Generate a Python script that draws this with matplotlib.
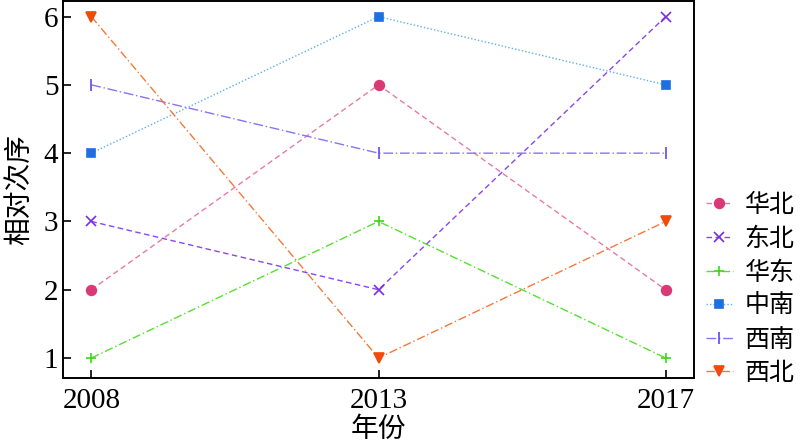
import matplotlib
matplotlib.use('Agg')
import matplotlib.pyplot as plt

plt.rcParams['font.family'] = ['Liberation Serif', 'Noto Sans CJK SC']

# Données
years = ['2008', '2013', '2017']
regions = ['华北', '东北', '华东', '中南', '西南', '西北']
huabei = [2, 5, 2]
dongbei = [3, 2, 6]
huadong = [1, 3, 1]
zhongnan = [4, 6, 5]
xinan = [5, 4, 4]
xibei = [6, 1, 3]

series = [huabei, dongbei, huadong, zhongnan, xinan, xibei]
markers = ['o', 'x', '+', 's', '|', 'v']
marker_colors = ['#d83a78', '#7a2ee0', '#3ad81a', '#1e6fe0', '#6446ee', '#f04a0c']
line_colors = ['#e87aa6', '#8a46ea', '#55e030', '#5cb0f0', '#8a72f2', '#f27a3a']
styles = [(0, (4, 2.5)), (0, (4, 2.5)), (0, (6, 2, 1, 2)), (0, (1, 1.5)),
          (0, (7, 2, 1, 2)), (0, (6, 2, 1, 2))]
msizes = [7, 6.5, 7.5, 6, 8, 7]

fig = plt.figure(figsize=(8, 4.45), dpi=100)
ax = fig.add_axes([0.079, 0.151, 0.789, 0.847])

x = list(range(len(years)))
for i in range(len(regions)):
    ax.plot(x, series[i], linestyle=styles[i], color=line_colors[i], lw=1.0,
            marker=markers[i], markersize=msizes[i],
            markerfacecolor=marker_colors[i], markeredgecolor=marker_colors[i],
            markeredgewidth=1.2, label=regions[i])

ax.set_xlim(-0.098, 2.1)
ax.set_ylim(0.71, 6.23)
ax.set_xticks(x)
ax.set_xticklabels(years)
ax.set_yticks([1, 2, 3, 4, 5, 6])
ax.tick_params(direction='in', length=6, width=1.2, labelsize=21,
               top=False, right=False)
ax.tick_params(axis='x', pad=7)
for s in ax.spines.values():
    s.set_linewidth(1.4)

ax.set_xlabel('年份', fontsize=20, labelpad=3)
ax.set_ylabel('相对次序', fontsize=20, labelpad=8)

ax.legend(loc='center left', bbox_to_anchor=(1.0, 0.235), frameon=False,
          fontsize=18, handlelength=1.1, handletextpad=0.45,
          labelspacing=0.42, borderaxespad=0.25, borderpad=0.2)

plt.savefig('out.png', dpi=100)
